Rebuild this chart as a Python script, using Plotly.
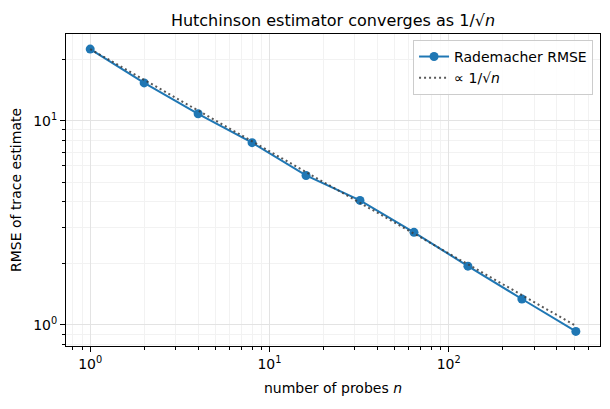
import plotly.graph_objects as go

# data
n_probes = [1, 2, 4, 8, 16, 32, 64, 128, 256, 512]
rmse = [22.4, 15.3, 10.8, 7.8, 5.39, 4.07, 2.84, 1.94, 1.34, 0.93]
ref_line = [22.4, 15.84, 11.2, 7.92, 5.6, 3.96, 2.8, 1.98, 1.4, 0.99]
major_vals = [1, 10, 100]
major_text = ["10<sup>0</sup>", "10<sup>1</sup>", "10<sup>2</sup>"]
y_major_vals = [1, 10]
y_major_text = ["10<sup>0</sup>", "10<sup>1</sup>"]
x_minor = [0.8, 0.9, 2, 3, 4, 5, 6, 7, 8, 9, 20, 30, 40, 50, 60, 70, 80, 90, 200, 300, 400, 500, 600, 700]
y_minor = [0.8, 0.9, 2, 3, 4, 5, 6, 7, 8, 9, 20]

FONT = "DejaVu Sans"
BLUE = "#1f77b4"

fig = go.Figure()
fig.add_trace(go.Scatter(
    x=n_probes, y=rmse, mode="lines+markers", name="Rademacher RMSE",
    line=dict(color=BLUE, width=2), marker=dict(color=BLUE, size=9),
))
fig.add_trace(go.Scatter(
    x=n_probes, y=ref_line, mode="lines", name="∝ 1/√<i>n</i>",
    line=dict(color="rgba(60,60,60,0.85)", width=2, dash="2px,3px"),
))

axis_common = dict(
    type="log", showline=True, linecolor="black", linewidth=1, mirror=True,
    ticks="outside", ticklen=5, tickwidth=1, tickcolor="black",
    showgrid=True, gridcolor="#e3e3e3", gridwidth=1, zeroline=False,
    tickfont=dict(family=FONT, size=14, color="black"),
)

fig.update_xaxes(
    **axis_common,
    range=[-0.135, 2.844],
    tickvals=major_vals, ticktext=major_text,
    minor=dict(tickvals=x_minor, ticks="outside", ticklen=3, tickcolor="black",
               showgrid=True, gridcolor="#f2f2f2", gridwidth=1),
    title=dict(text="number of probes <i>n</i>", font=dict(family=FONT, size=14, color="black"), standoff=12),
)
fig.update_yaxes(
    **axis_common,
    range=[-0.103, 1.424],
    tickvals=y_major_vals, ticktext=y_major_text,
    minor=dict(tickvals=y_minor, ticks="outside", ticklen=3, tickcolor="black",
               showgrid=True, gridcolor="#f2f2f2", gridwidth=1),
    title=dict(text="RMSE of trace estimate", font=dict(family=FONT, size=14, color="black"), standoff=8),
)

fig.update_layout(
    width=610, height=409,
    margin=dict(l=66, r=10, t=34, b=63),
    paper_bgcolor="white", plot_bgcolor="white",
    font=dict(family=FONT, size=14, color="black"),
    title=dict(text="Hutchinson estimator converges as 1/√<i>n</i>", x=0.5, xref="paper",
               y=1 - 20 / 409, yref="container", yanchor="middle",
               font=dict(family=FONT, size=16, color="black")),
    legend=dict(x=0.987, xanchor="right", y=0.981, yanchor="top",
                bordercolor="#cccccc", borderwidth=1, bgcolor="rgba(255,255,255,0.8)",
                font=dict(family=FONT, size=14, color="black"), tracegroupgap=2),
    showlegend=True,
)

fig.write_html("out.html")
